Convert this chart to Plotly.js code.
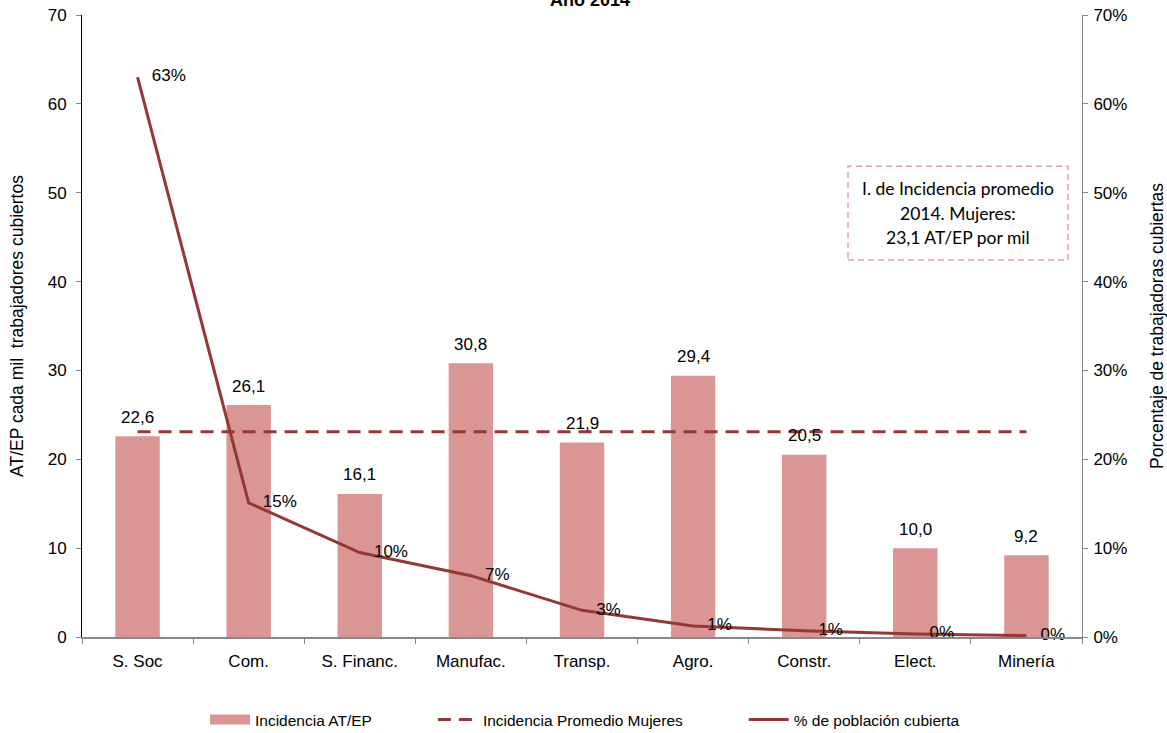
<!DOCTYPE html>
<html>
<head>
<meta charset="utf-8">
<script src="https://cdn.plot.ly/plotly-3.0.1.min.js"></script>
<style>html,body{margin:0;padding:0;background:#fff;}#chart{width:1167px;height:733px;}</style>
</head>
<body>
<div id="chart"></div>
<script>
const categories = ["S. Soc", "Com.", "S. Financ.", "Manufac.", "Transp.", "Agro.", "Constr.", "Elect.", "Minería"];
const incidencia = [22.6, 26.1, 16.1, 30.8, 21.9, 29.4, 20.5, 10.0, 9.2];
const promedioMujeres = [23.1, 23.1, 23.1, 23.1, 23.1, 23.1, 23.1, 23.1, 23.1];
const poblacionCubierta = [0.63, 0.151, 0.095, 0.069, 0.03, 0.0124, 0.007, 0.0035, 0.0015];
const boxLines = ["I. de Incidencia promedio", "2014. Mujeres:", "23,1 AT/EP por mil"];

const barColor = "#d99694";
const lineColor = "#953735";
const fontFam = "Liberation Sans, Arial, sans-serif";
const NB = "\u00a0";

const traces = [
  {
    type: "bar", name: "Incidencia AT/EP", x: categories, y: incidencia,
    marker: {color: barColor}, width: 0.4, showlegend: false, legendgroup: "bar"
  },
  {
    type: "scatter", mode: "lines", name: "Incidencia AT/EP" + NB.repeat(13),
    x: [null], y: [null], line: {color: barColor, width: 12}, legendgroup: "bar", hoverinfo: "skip"
  },
  {
    type: "scatter", mode: "lines", name: "Incidencia Promedio Mujeres" + NB.repeat(13),
    x: categories, y: promedioMujeres,
    line: {color: lineColor, width: 3, dash: "13px,8px"}
  },
  {
    type: "scatter", mode: "lines+text", name: "% de población cubierta",
    x: categories, y: poblacionCubierta, yaxis: "y2",
    line: {color: lineColor, width: 3},
    texttemplate: NB + NB + NB + "%{y:.0%}", textposition: "middle right",
    textfont: {size: 17, color: "#000", family: fontFam}, cliponaxis: false
  }
];

const barLabels = categories.map((c, i) => ({
  x: c, y: incidencia[i], xref: "x", yref: "y",
  text: incidencia[i].toFixed(1).replace(".", ","),
  showarrow: false, xanchor: "center", yanchor: "middle", yshift: 19,
  font: {size: 17, color: "#000", family: fontFam}
}));

const boxY = [188, 213, 238].map(p => (637 - p) / 622);
const boxText = boxLines.map((t, i) => ({
  text: t, xref: "paper", yref: "paper", x: 0.876, y: boxY[i],
  xanchor: "center", yanchor: "middle", showarrow: false,
  font: {size: 17.5, family: "Lato, Open Sans, sans-serif", color: "#000"}
}));

const layout = {
  width: 1167, height: 733,
  margin: {l: 82, r: 85, t: 15, b: 96, autoexpand: false},
  separators: ",.",
  paper_bgcolor: "#fff", plot_bgcolor: "#fff",
  font: {family: fontFam, size: 16, color: "#000"},
  showlegend: true,
  legend: {orientation: "h", x: 0.123, xanchor: "left", y: -0.1334, yanchor: "middle",
           font: {size: 15.5}, traceorder: "normal", itemwidth: 40},
  xaxis: {
    type: "category", showline: true, linecolor: "#888", linewidth: 1.5,
    ticks: "outside", tickson: "boundaries", ticklen: 5, tickcolor: "#888",
    showgrid: false, zeroline: false, tickfont: {size: 17}, ticklabelstandoff: 8
  },
  yaxis: {
    range: [0, 70], dtick: 10, showline: true, linecolor: "#000", linewidth: 1,
    ticks: "outside", ticklen: 5, tickcolor: "#888", showgrid: false, zeroline: false,
    tickfont: {size: 17}, ticklabelstandoff: 6,
    title: {text: "AT/EP cada mil  trabajadores cubiertos", font: {size: 17.5}, standoff: 19}
  },
  yaxis2: {
    range: [0, 0.7], dtick: 0.1, tickformat: ".0%", overlaying: "y", side: "right",
    showline: true, linecolor: "#888", linewidth: 1, ticks: "outside", ticklen: 5,
    tickcolor: "#888", showgrid: false, zeroline: false, tickfont: {size: 17}, ticklabelstandoff: 2,
    title: {text: "Porcentaje de trabajadoras cubiertas", font: {size: 17.5}, standoff: 28}
  },
  annotations: [
    {text: "<b>Año 2014</b>", xref: "paper", yref: "paper", x: 0.508, y: 1.024,
     xanchor: "center", yanchor: "middle", showarrow: false, font: {size: 18}}
  ].concat(barLabels, boxText),
  shapes: [
    {type: "rect", xref: "paper", yref: "paper", x0: 0.766, x1: 0.986, y0: 0.606, y1: 0.757,
     line: {color: "#e3a3a1", width: 1.5, dash: "6px,4px"}, fillcolor: "rgba(0,0,0,0)"}
  ]
};

Plotly.newPlot("chart", traces, layout, {displayModeBar: false, staticPlot: true});
</script>
</body>
</html>
